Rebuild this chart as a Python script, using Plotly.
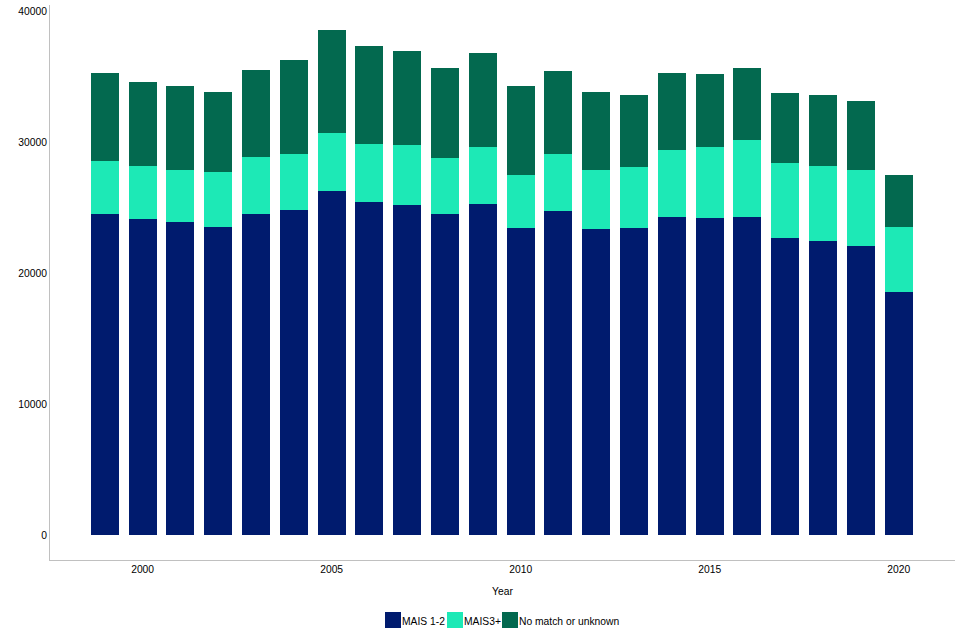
import plotly.graph_objects as go

years = list(range(1999, 2021))
mais12 = [24530, 24150, 23920, 23540, 24530, 24840, 26290, 25450, 25220, 24530, 25300,
          23460, 24760, 23390, 23460, 24300, 24230, 24300, 22700, 22470, 22090, 18570]
mais3_top = [28580, 28200, 27890, 27740, 28890, 29120, 30720, 29880, 29800, 28810, 29650,
             27510, 29120, 27890, 28120, 29420, 29650, 30190, 28430, 28200, 27890, 23540]
totals = [35310, 34620, 34310, 33860, 35540, 36300, 38590, 37370, 36990, 35690, 36840,
          34310, 35460, 33860, 33630, 35310, 35230, 35690, 33780, 33630, 33170, 27510]
mais3 = [b - a for a, b in zip(mais12, mais3_top)]
nomatch = [c - b for b, c in zip(mais3_top, totals)]

series_names = ["MAIS 1-2", "MAIS3+", "No match or unknown"]
series_values = [mais12, mais3, nomatch]
colors = ["#001B6E", "#1DE9B6", "#03694F"]

fig = go.Figure()
for name, vals, col in zip(series_names, series_values, colors):
    fig.add_trace(go.Bar(x=years, y=vals, name=name, marker=dict(color=col, line=dict(width=0)),
                         showlegend=False))

W, H = 960, 640
L, R, T, B = 50, 5, 5, 80
pw, ph = W - L - R, H - T - B

def px(xp):
    return (xp - L) / pw

def py(yp):
    return (H - B - yp) / ph

font = dict(family="Liberation Sans, Arial, sans-serif", size=10.3, color="#000000")

fig.update_layout(
    width=W, height=H,
    margin=dict(l=L, r=R, t=T, b=B),
    barmode="stack", bargap=0.26,
    plot_bgcolor="white", paper_bgcolor="white",
    font=font,
    xaxis=dict(range=[1997.55, 2021.49], tickvals=[2000, 2005, 2010, 2015, 2020],
               showgrid=False, zeroline=False, showline=True, linecolor="#C0C0C0",
               linewidth=1, ticks="", ticklen=0,
               title=dict(text="Year", font=font, standoff=13)),
    yaxis=dict(range=[-1910, 40500], tickvals=[0, 10000, 20000, 30000, 40000],
               showgrid=False, zeroline=False, showline=True, linecolor="#C0C0C0",
               linewidth=1, ticks="", ticklen=0, tickformat="d"),
)

# manual legend
legend_items = [(385, "MAIS 1-2"), (447, "MAIS3+"), (502, "No match or unknown")]
for (x0, label), col in zip(legend_items, colors):
    fig.add_shape(type="rect", xref="paper", yref="paper",
                  x0=px(x0), x1=px(x0 + 16), y0=py(628), y1=py(612),
                  fillcolor=col, line=dict(width=0))
    fig.add_annotation(xref="paper", yref="paper", x=px(x0 + 16), y=py(621),
                       text=label, showarrow=False, xanchor="left", yanchor="middle",
                       font=font, xshift=-1)

fig.write_html("out.html", config={"displayModeBar": False},
               post_script="document.body.style.margin='0';document.body.style.overflow='hidden';")
